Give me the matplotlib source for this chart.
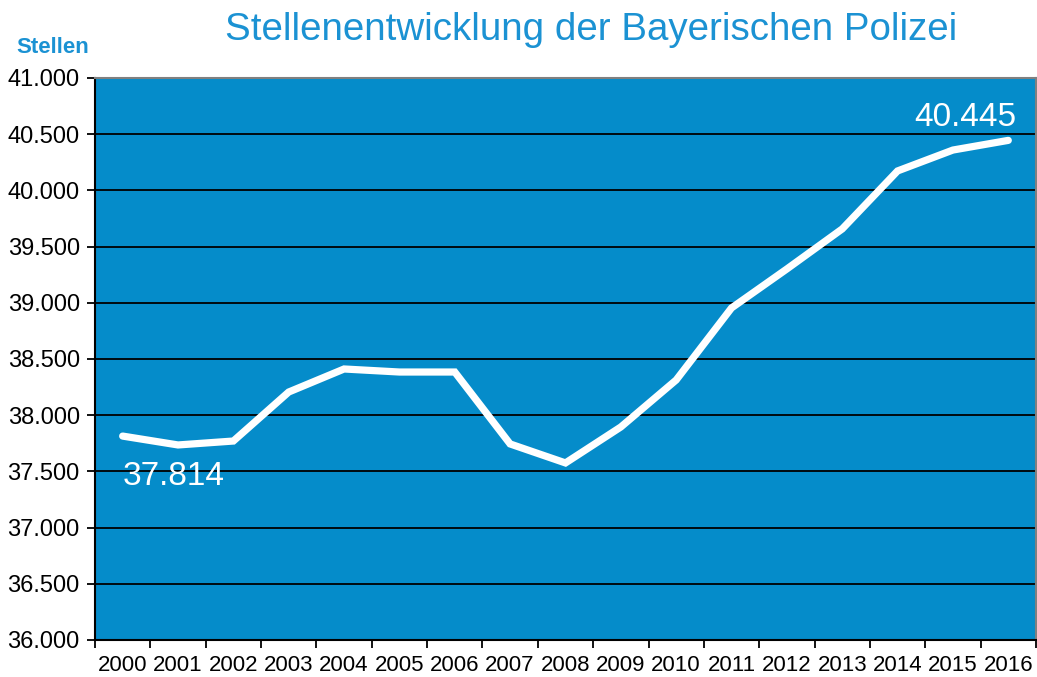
import matplotlib
matplotlib.use("Agg")
import matplotlib.pyplot as plt

plt.rcParams['font.family'] = ['Liberation Sans', 'DejaVu Sans']

years = list(range(2000, 2017))
stellen = [37814, 37735, 37770, 38206, 38411, 38384, 38384, 37744, 37575,
           37895, 38313, 38954, 39301, 39657, 40173, 40359, 40445]
yticks = list(range(36000, 41001, 500))

blue = '#058cca'
title_blue = '#1b92d3'

def de(v):
    return f"{v:,}".replace(",", ".")

fig = plt.figure(figsize=(10.37, 6.77), dpi=100)
ax = fig.add_axes([0.0916, 0.0547, 0.9074, 0.8301])
ax.set_facecolor(blue)

x = list(range(len(years)))
ax.plot(x, stellen, color='white', lw=5.2, solid_capstyle='round', solid_joinstyle='miter', zorder=3)

ax.set_xlim(-0.5, len(years) - 0.5)
ax.set_ylim(36000, 41000)
ax.set_yticks(yticks)
ax.set_yticklabels([de(v) for v in yticks], fontsize=17)
ax.yaxis.grid(True, color='black', lw=1.3)
ax.set_axisbelow(True)

ax.set_xticks([i - 0.5 for i in range(len(years) + 1)])
ax.set_xticklabels([])
ax.set_xticks(x, minor=True)
ax.set_xticklabels([str(y) for y in years], minor=True, fontsize=16)
ax.tick_params(axis='x', which='minor', length=0, pad=11)
ax.tick_params(axis='both', which='major', length=6, width=1.3, direction='out')
ax.tick_params(axis='y', pad=5)

for s in ['left', 'bottom']:
    ax.spines[s].set_color('black')
    ax.spines[s].set_linewidth(1.5)
for s in ['top', 'right']:
    ax.spines[s].set_color('#808080')
    ax.spines[s].set_linewidth(1.5)

ax.annotate(de(stellen[0]), (x[0], stellen[0]), xytext=(0, -18), textcoords='offset points',
            ha='left', va='top', color='white', fontsize=24)
ax.annotate(de(stellen[-1]), (x[-1], stellen[-1]), xytext=(6, 5), textcoords='offset points',
            ha='right', va='bottom', color='white', fontsize=24)

fig.text(0.57, 0.955, 'Stellenentwicklung der Bayerischen Polizei', ha='center', va='center',
         color=title_blue, fontsize=27.7)
fig.text(0.016, 0.93, 'Stellen', ha='left', va='center', color=title_blue, fontsize=16, fontweight='bold')

fig.savefig('out.png', dpi=100)
